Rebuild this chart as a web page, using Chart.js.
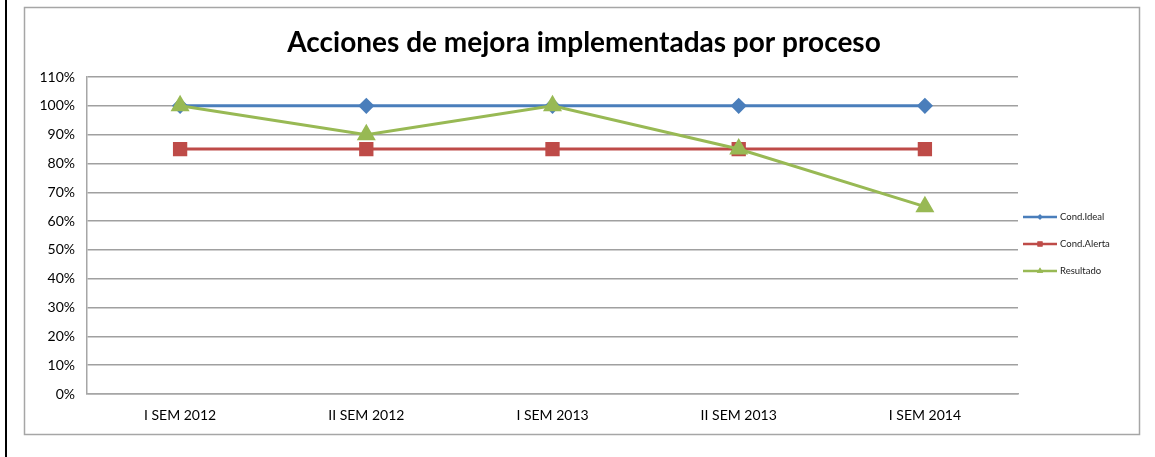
<!DOCTYPE html>
<html>
<head>
<meta charset="utf-8">
<script src="https://cdn.jsdelivr.net/npm/chart.js@4"></script>
<style>
  html, body { margin: 0; padding: 0; background: #ffffff; }
  #wrap { width: 1155px; height: 457px; position: relative; }
</style>
</head>
<body>
<div id="wrap"><canvas id="accionesChart"></canvas></div>
<script>
// Data block
const periodos = ['I SEM 2012', 'II SEM 2012', 'I SEM 2013', 'II SEM 2013', 'I SEM 2014'];
const condIdeal = [100, 100, 100, 100, 100];
const condAlerta = [85, 85, 85, 85, 85];
const resultado = [100, 90, 100, 85, 65];
const titulo = 'Acciones de mejora implementadas por proceso';

const FONT = 'Lato, "Open Sans", sans-serif';

// Frame plugin: black rule on the left, grey chart border and the title
const framePlugin = {
    id: 'frame',
    beforeDraw(chart) {
        const ctx = chart.ctx;
        ctx.save();
        ctx.fillStyle = '#ffffff';
        ctx.fillRect(0, 0, chart.width, chart.height);
        ctx.fillStyle = '#000000';
        ctx.fillRect(5, 0, 2, chart.height);
        ctx.strokeStyle = '#a6a6a6';
        ctx.lineWidth = 1.5;
        ctx.strokeRect(24.5, 7.5, 1115, 427);
        // Title centred on the chart box, not on the plot
        ctx.fillStyle = '#000000';
        ctx.font = 'bold 28px ' + FONT;
        ctx.textAlign = 'center';
        ctx.textBaseline = 'middle';
        ctx.fillText(titulo, 584, 43);
        ctx.restore();
    }
};

// Legend plugin: line + marker like the original
const lineLegend = {
    id: 'lineLegend',
    afterDraw(chart) {
        const ctx = chart.ctx;
        const x0 = 1023, x1 = 1057;
        const ys = [217, 244, 271];
        chart.data.datasets.forEach((ds, i) => {
            const y = ys[i];
            ctx.save();
            ctx.strokeStyle = ds.borderColor;
            ctx.lineWidth = 2.5;
            ctx.beginPath();
            ctx.moveTo(x0, y);
            ctx.lineTo(x1, y);
            ctx.stroke();
            ctx.fillStyle = ds.pointBackgroundColor;
            Chart.helpers.drawPoint(ctx, {
                pointStyle: ds.pointStyle,
                radius: ds.pointRadius * 0.45,
                rotation: 0
            }, (x0 + x1) / 2, y);
            ctx.fill();
            ctx.fillStyle = '#222222';
            ctx.font = '9.5px ' + FONT;
            ctx.textBaseline = 'middle';
            ctx.fillText(ds.label, x1 + 3, y);
            ctx.restore();
        });
    }
};

const accionesData = {
    labels: periodos,
    datasets: [{
        label: 'Cond.Ideal',
        data: condIdeal,
        borderColor: '#4a7ebb',
        backgroundColor: '#4a7ebb',
        pointBackgroundColor: '#4a7ebb',
        pointBorderColor: '#4a7ebb',
        pointStyle: 'rectRot',
        pointRadius: 6,
        borderWidth: 3,
        order: 3
    }, {
        label: 'Cond.Alerta',
        data: condAlerta,
        borderColor: '#be4b48',
        backgroundColor: '#be4b48',
        pointBackgroundColor: '#be4b48',
        pointBorderColor: '#be4b48',
        pointStyle: 'rect',
        pointRadius: 8,
        borderWidth: 3,
        order: 2
    }, {
        label: 'Resultado',
        data: resultado,
        borderColor: '#98b954',
        backgroundColor: '#98b954',
        pointBackgroundColor: '#98b954',
        pointBorderColor: '#98b954',
        pointStyle: 'triangle',
        pointRadius: 8,
        borderWidth: 3,
        order: 1
    }]
};

const accionesConfig = {
    type: 'line',
    data: accionesData,
    options: {
        responsive: true,
        maintainAspectRatio: false,
        animation: false,
        devicePixelRatio: 1,
        layout: {
            padding: {left: 30, right: 137, top: 77, bottom: 0}
        },
        elements: {
            line: { tension: 0 },
            point: { borderWidth: 1, hoverRadius: 7 }
        },
        plugins: {
            legend: { display: false },
            tooltip: { enabled: false },
            title: { display: false }
        },
        scales: {
            x: {
                offset: true,
                grid: { display: false, drawTicks: false },
                border: { color: '#a6a6a6', width: 1.5 },
                ticks: {
                    color: '#000000',
                    font: { family: FONT, size: 14 },
                    padding: 13
                },
                afterFit(scale) { scale.height = 63; }
            },
            y: {
                min: 0,
                max: 110,
                grid: { color: '#a0a0a0', lineWidth: 1.5, drawTicks: false },
                border: { color: '#a6a6a6', width: 1.5 },
                ticks: {
                    stepSize: 10,
                    color: '#000000',
                    font: { family: FONT, size: 14 },
                    padding: 12,
                    callback: v => v + '%'
                },
                afterFit(scale) { scale.width = 57; }
            }
        }
    },
    plugins: [framePlugin, lineLegend]
};

const accionesChart = new Chart(
    document.getElementById('accionesChart'),
    accionesConfig
);
</script>
</body>
</html>
